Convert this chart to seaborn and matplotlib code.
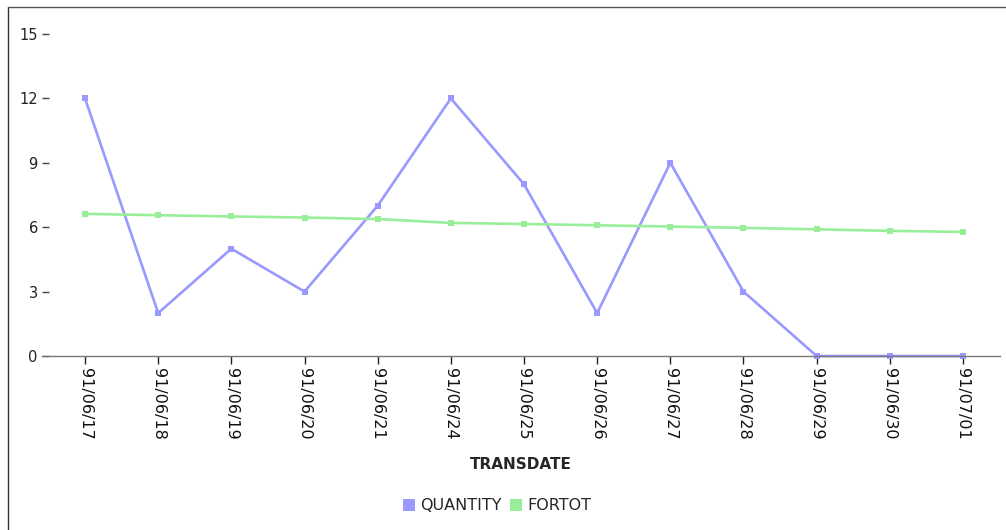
import matplotlib
matplotlib.use("Agg")
import matplotlib.pyplot as plt
from matplotlib.lines import Line2D
import seaborn as sns
import pandas as pd

dates = ["91/06/17", "91/06/18", "91/06/19", "91/06/20", "91/06/21", "91/06/24",
         "91/06/25", "91/06/26", "91/06/27", "91/06/28", "91/06/29", "91/06/30", "91/07/01"]
quantity = [12, 2, 5, 3, 7, 12, 8, 2, 9, 3, 0, 0, 0]
fortot = [6.62, 6.56, 6.50, 6.45, 6.38, 6.20, 6.15, 6.09, 6.03, 5.97, 5.90, 5.83, 5.78]
series_names = ["QUANTITY", "FORTOT"]
colors = ["#9999ff", "#99ee99"]

sns.set_theme(style="white")
plt.rcParams["font.family"] = ["DejaVu Sans"]

df = pd.DataFrame({
    "idx": list(range(len(dates))) * 2,
    "value": quantity + fortot,
    "series": [series_names[0]] * len(dates) + [series_names[1]] * len(dates),
})

fig = plt.figure(figsize=(10.06, 5.30), dpi=100)
ax = fig.add_axes([42 / 1006, 1 - 356 / 530, (1000 - 42) / 1006, (356 - 34) / 530])

sns.lineplot(data=df, x="idx", y="value", hue="series", palette=colors,
             marker="s", markersize=5, markeredgewidth=0, linewidth=1.9,
             dashes=False, ax=ax, legend=False, clip_on=False)

ax.set_xlim(-0.588, 12.506)
ax.set_ylim(0, 15)
ax.set_xticks(range(len(dates)))
ax.set_xticklabels(dates, rotation=270, fontsize=11.5, color="#111111")
ax.set_yticks([0, 3, 6, 9, 12, 15])
ax.set_yticklabels(["0", "3", "6", "9", "12", "15"], fontsize=10.5, color="#222222")
ax.tick_params(axis="x", direction="out", length=6, width=1, color="#222222", pad=3, bottom=True)
ax.tick_params(axis="y", direction="in", length=5, width=1, color="#444444", pad=3, left=True)

for s in ["top", "right", "left"]:
    ax.spines[s].set_visible(False)
ax.spines["bottom"].set_color("#777777")
ax.spines["bottom"].set_linewidth(1)

ax.set_xlabel("TRANSDATE", fontsize=11, fontweight="bold", labelpad=12)
ax.set_ylabel("")

handles = [Line2D([], [], marker="s", linestyle="none", markersize=8,
                  markerfacecolor=c, markeredgewidth=0) for c in colors]
fig.legend(handles, series_names, loc="center", bbox_to_anchor=(497 / 1006, 1 - 506 / 530),
           ncol=2, frameon=False, fontsize=11.5, handletextpad=0.3, columnspacing=0.5,
           handlelength=0.8)

fig.add_artist(Line2D([8 / 1006, 8 / 1006], [0, 1 - 7 / 530], transform=fig.transFigure,
                      color="#333333", linewidth=1))
fig.add_artist(Line2D([8 / 1006, 1], [1 - 7 / 530, 1 - 7 / 530], transform=fig.transFigure,
                      color="#555555", linewidth=1))

fig.savefig("out.png", dpi=100)
